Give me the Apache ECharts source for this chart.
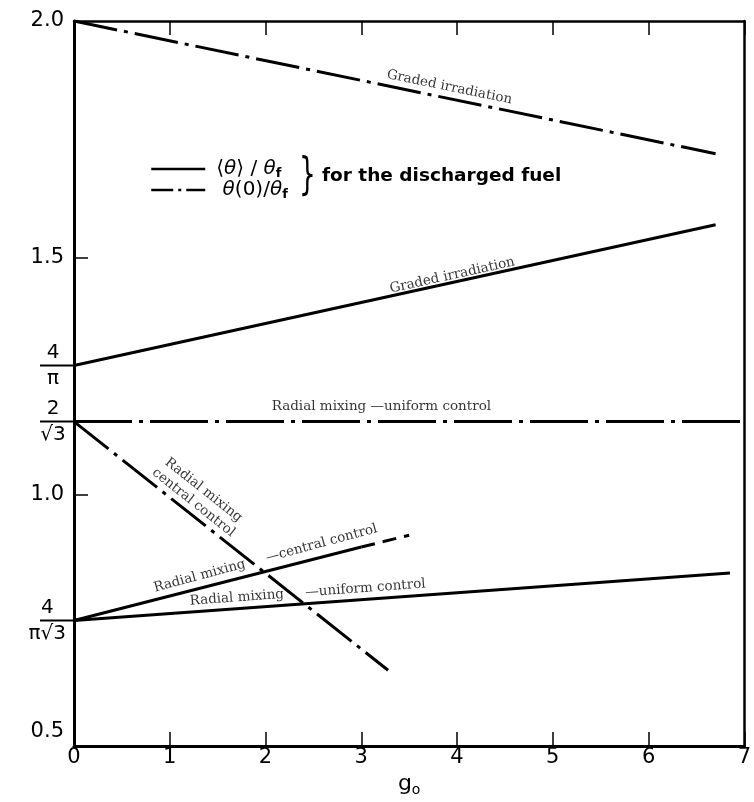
<!DOCTYPE html>
<html>
<head>
<meta charset="utf-8">
<script src="https://cdn.jsdelivr.net/npm/echarts@6/dist/echarts.min.js"></script>
<style>
  html, body { margin: 0; padding: 0; background: #fff; }
  #chart { width: 754px; height: 802px; }
</style>
</head>
<body>
<div id="chart"></div>
<script>
// Reference levels marked on the vertical axis
const SQRT3 = Math.sqrt(3);
const FOUR_OVER_PI = 4 / Math.PI;
const TWO_OVER_SQRT3 = 2 / SQRT3;
const FOUR_OVER_PI_SQRT3 = 4 / (Math.PI * SQRT3);

// Axis ticks and labels
const xTickValues = [0, 1, 2, 3, 4, 5, 6, 7];
const yTickValues = [1.0, 1.5];
const yLabelValues = [0.5, FOUR_OVER_PI_SQRT3, 1.0, TWO_OVER_SQRT3, FOUR_OVER_PI, 1.5, 2.0];
const yLabelTexts = ['0.5', ['4', 'π√3'], '1.0', ['2', '√3'], ['4', 'π'], '1.5', '2.0'];

// Curves: [g0, ratio]
// θ(0)/θf, graded irradiation
const gradedCentre = [[0, 2.0], [6.7, 1.72]];
// <θ>/θf, graded irradiation
const gradedMean = [[0, FOUR_OVER_PI], [6.7, 1.57]];
// θ(0)/θf, radial mixing with uniform control
const uniformCentre = [[0, TWO_OVER_SQRT3], [7, TWO_OVER_SQRT3]];
// θ(0)/θf, radial mixing with central control
const centralCentre = [[0, TWO_OVER_SQRT3], [3.28, 0.63]];
// <θ>/θf, radial mixing with central control (solid part, then extrapolated part)
const centralMean = [[0, FOUR_OVER_PI_SQRT3], [3.0, 0.89]];
const centralMeanExtrap = [[3.0, 0.89], [3.5, 0.915]];
// <θ>/θf, radial mixing with uniform control
const uniformMean = [[0, FOUR_OVER_PI_SQRT3], [6.85, 0.835]];

// Curve captions
const noteTexts = [
  'Graded irradiation',
  'Graded irradiation',
  'Radial mixing —uniform control',
  'Radial mixing\ncentral control',
  'Radial mixing     —central control',
  'Radial mixing     —uniform control'
];
const notePlaces = [[3.92, 1.86], [3.95, 1.463], [3.21, 1.187], [1.3, 0.997], [2.0, 0.866], [2.44, 0.794]];
const noteAngles = [-11.6, 12.4, 0, -38.5, 15, 4.2];

const SANS = '"DejaVu Sans", sans-serif';
const SERIF = '"DejaVu Serif", serif';
const DASH_DOT = [44, 7, 4, 7];
const DASH_DOT_LONG = [58, 7, 4, 7];
const LINE_W = 3;

const chart = echarts.init(document.getElementById('chart'), null, { renderer: 'canvas' });

function yLabel(value) {
  for (let i = 0; i < yLabelValues.length; i++) {
    if (Math.abs(value - yLabelValues[i]) < 1e-6) {
      const t = yLabelTexts[i];
      if (Array.isArray(t)) return '{n|' + t[0] + '}\n{bar| }\n{d|' + t[1] + '}';
      return '{num|' + t + '}';
    }
  }
  return '';
}

function lineSeries(name, data, dash) {
  return {
    name: name,
    type: 'line',
    data: data,
    symbol: 'none',
    silent: true,
    animation: false,
    color: '#000',
    lineStyle: { color: '#000', width: LINE_W, type: dash, cap: 'butt' }
  };
}

const legendRich = {
  b: { fontFamily: SANS, fontSize: 20, color: '#000', lineHeight: 22, verticalAlign: 'middle' },
  th: { fontFamily: SANS, fontSize: 20, fontStyle: 'italic', color: '#000', lineHeight: 22, verticalAlign: 'middle' },
  s: { fontFamily: SANS, fontSize: 13, fontWeight: 'bold', color: '#000', lineHeight: 13, verticalAlign: 'bottom' }
};

const option = {
  animation: false,
  backgroundColor: '#fff',
  grid: { left: 74, right: 2, top: 21, bottom: 44, containLabel: false },
  legend: {
    data: [
      { name: 'mean', lineStyle: { type: 'solid', width: 2.5, color: '#000' } },
      { name: 'centre', lineStyle: { type: [22, 5, 3, 5], width: 2.5, color: '#000' } }
    ],
    orient: 'vertical',
    left: 145,
    top: 154,
    itemWidth: 54,
    itemHeight: 14,
    itemGap: 0,
    selectedMode: false,
    itemStyle: { opacity: 0 },
    formatter: function (name) {
      return name === 'mean'
        ? '{b|⟨}{th|θ}{b|⟩ / }{th|θ}{s|f}'
        : '{th| θ}{b|(0)/}{th|θ}{s|f}';
    },
    textStyle: { rich: legendRich, padding: [0, 0, 0, 6] }
  },
  xAxis: [{
    type: 'value',
    min: 0, max: 7, interval: 1,
    position: 'bottom',
    name: '{g|g}{s|o}',
    nameLocation: 'middle',
    nameGap: 20,
    nameTextStyle: {
      rich: {
        g: { fontFamily: SANS, fontSize: 22, color: '#000', lineHeight: 26, verticalAlign: 'middle' },
        s: { fontFamily: SANS, fontSize: 14, color: '#000', lineHeight: 14, verticalAlign: 'bottom' }
      }
    },
    axisLine: { show: true, onZero: false, lineStyle: { color: '#000', width: 3 } },
    axisTick: { show: true, inside: true, length: 14, lineStyle: { color: '#000', width: 1.5 } },
    axisLabel: {
      show: true, margin: 1, color: '#000', fontFamily: SANS, fontSize: 21,
      customValues: xTickValues
    },
    splitLine: { show: false }
  }, {
    type: 'value',
    min: 0, max: 7, interval: 1,
    position: 'top',
    axisLine: { show: true, onZero: false, lineStyle: { color: '#000', width: 2.5 } },
    axisTick: { show: true, inside: true, length: 14, lineStyle: { color: '#000', width: 1.5 } },
    axisLabel: { show: false },
    splitLine: { show: false }
  }],
  yAxis: [{
    type: 'value',
    min: 0.47, max: 2.0,
    position: 'left',
    axisLine: { show: true, onZero: false, lineStyle: { color: '#000', width: 3 } },
    axisTick: { show: true, inside: true, length: 14, customValues: yTickValues, lineStyle: { color: '#000', width: 1.5 } },
    axisLabel: {
      show: true,
      margin: 0,
      customValues: yLabelValues,
      formatter: yLabel,
      rich: {
        num: { fontFamily: SANS, fontSize: 21, color: '#000', padding: [0, 10, 0, 0] },
        n: { fontFamily: SANS, fontSize: 20, color: '#000', lineHeight: 24, align: 'center', padding: [0, 8, 0, 0] },
        bar: { width: 34, height: 2, lineHeight: 2, backgroundColor: '#000', align: 'right' },
        d: { fontFamily: SANS, fontSize: 20, color: '#000', lineHeight: 24, align: 'center', padding: [0, 8, 0, 0] }
      }
    },
    splitLine: { show: false }
  }, {
    type: 'value',
    min: 0.47, max: 2.0,
    position: 'right',
    axisLine: { show: true, onZero: false, lineStyle: { color: '#000', width: 2.5 } },
    axisTick: { show: false },
    axisLabel: { show: false },
    splitLine: { show: false }
  }],
  series: [
    lineSeries('mean', gradedMean, 'solid'),
    lineSeries('centre', gradedCentre, DASH_DOT),
    lineSeries('centre', uniformCentre, DASH_DOT_LONG),
    lineSeries('centre', centralCentre, DASH_DOT),
    lineSeries('mean', centralMean, 'solid'),
    lineSeries('mean', centralMeanExtrap, [14, 8]),
    lineSeries('mean', uniformMean, 'solid'),
    {
      name: 'notes',
      type: 'scatter',
      symbolSize: 0,
      silent: true,
      animation: false,
      z: 5,
      data: noteTexts.map(function (txt, i) {
        return {
          value: notePlaces[i],
          label: {
            show: true,
            position: 'inside',
            formatter: txt,
            rotate: noteAngles[i],
            fontFamily: SERIF,
            fontSize: 13.5,
            lineHeight: 16,
            color: '#000',
            align: 'center',
            verticalAlign: 'middle'
          }
        };
      })
    }
  ],
  graphic: [
    {
      type: 'text',
      left: 299, top: 156,
      style: { text: '}', fontFamily: '"DejaVu Sans", sans-serif', fontSize: 44, fill: '#000' },
      scaleX: 0.6
    },
    {
      type: 'text',
      left: 322, top: 167,
      style: { text: 'for the discharged fuel', fontFamily: SANS, fontSize: 18.5, fontWeight: 'bold', fill: '#000' }
    }
  ]
};

chart.setOption(option);
</script>
</body>
</html>
